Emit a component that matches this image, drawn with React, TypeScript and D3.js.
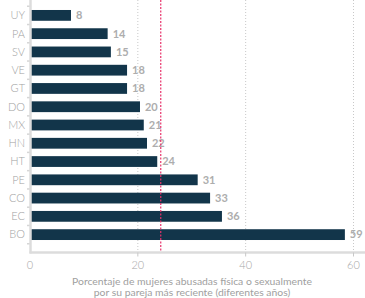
import React from 'react';
import * as d3 from 'd3';

const width = 365;
const height = 298;

const countries = ['UY', 'PA', 'SV', 'VE', 'GT', 'DO', 'MX', 'HN', 'HT', 'PE', 'CO', 'EC', 'BO'];
const values = [7.6, 14.4, 15.0, 18.0, 18.0, 20.4, 21.1, 21.7, 23.6, 31.1, 33.4, 35.6, 58.4];
const labels = ['8', '14', '15', '18', '18', '20', '21', '22', '24', '31', '33', '36', '59'];
const xTicks = [0, 20, 40, 60];
const averageLine = 24.25;
const titleLines = [
  'Porcentaje de mujeres abusadas física o sexualmente',
  'por su pareja más reciente (diferentes años)',
];

const font = 'Lato, "Open Sans", sans-serif';

export default function App() {
  const x = d3.scaleLinear().domain([0, 60]).range([30, 353.5]);
  const y = d3.scaleBand().domain(countries).range([2.5, 247.5]).padding(0.41);
  const step = y.step();
  const gap = step - y.bandwidth();
  const axisY = 252.5;

  // tick marks on the y axis sit between the bars
  const boundaries = [y(countries[0])! - gap / 2, ...countries.map((c) => y(c)! + y.bandwidth() + gap / 2)];

  return (
    <svg width={width} height={height} style={{ position: 'absolute', left: 0, top: 0 }}>
      {xTicks.filter((t) => t > 0).map((t) => (
        <line key={t} x1={x(t)} x2={x(t)} y1={0} y2={axisY} stroke="#c8c8c8" strokeDasharray="1,2" />
      ))}
      {countries.map((c, i) => (
        <g key={c}>
          <rect x={x(0)} y={y(c)} width={x(values[i]) - x(0)} height={y.bandwidth()} fill="#12354a" />
          <text
            x={x(values[i]) + 5}
            y={y(c)! + y.bandwidth() / 2}
            dy="0.35em"
            fontFamily={font}
            fontWeight="bold"
            fontSize={11}
            fill="#adadad"
          >
            {labels[i]}
          </text>
          <text
            x={25}
            y={y(c)! + y.bandwidth() / 2}
            dy="0.35em"
            textAnchor="end"
            fontFamily={font}
            fontWeight={300}
            fontSize={11}
            fill="#a2a2a2"
          >
            {c}
          </text>
        </g>
      ))}
      <line
        x1={x(averageLine)}
        x2={x(averageLine)}
        y1={0}
        y2={axisY}
        stroke="#e8336a"
        strokeWidth={1.2}
        strokeDasharray="2,1.5"
      />
      {boundaries.map((b, i) => (
        <line key={i} x1={27} x2={30} y1={b} y2={b} stroke="#d6d6d6" strokeWidth={1.5} />
      ))}
      <line x1={30.5} x2={30.5} y1={0} y2={axisY + 1} stroke="#dcdcdc" strokeWidth={2.5} />
      <line x1={29.5} x2={width} y1={axisY} y2={axisY} stroke="#dcdcdc" strokeWidth={2.5} />
      {xTicks.map((t) => (
        <g key={t}>
          {t > 0 && <line x1={x(t)} x2={x(t)} y1={axisY} y2={axisY + 4} stroke="#c8c8c8" />}
          <text x={x(t)} y={269} textAnchor="middle" fontFamily={font} fontWeight={300} fontSize={11} fill="#a8a8a8">
            {t}
          </text>
        </g>
      ))}
      {titleLines.map((l, i) => (
        <text key={i} x={192} y={285 + i * 10.5} textAnchor="middle" fontFamily={font} fontSize={10.4} fill="#a0a0a0">
          {l}
        </text>
      ))}
    </svg>
  );
}
